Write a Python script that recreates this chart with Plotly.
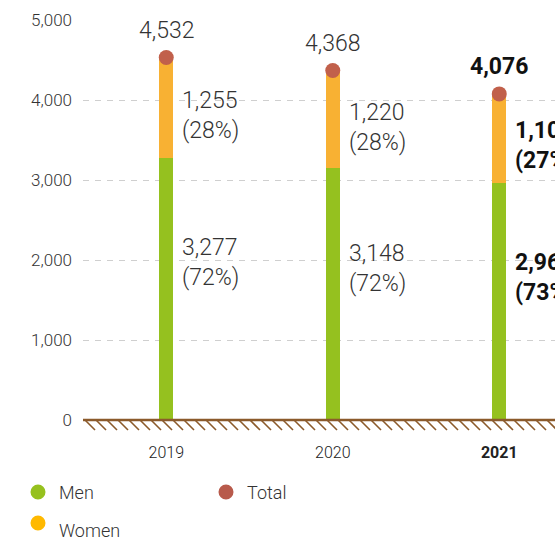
import plotly.graph_objects as go

# ---- data ----
years = ["2019", "2020", "2021"]
men = [3277, 3148, 2968]
women = [1255, 1220, 1108]
totals = [4532, 4368, 4076]
men_pct = ["72%", "72%", "73%"]
women_pct = ["28%", "28%", "27%"]
highlight = "2021"
y_ticks = [0, 1000, 2000, 3000, 4000, 5000]

# ---- style ----
C_MEN = "#95C11F"
C_WOMEN = "#F8B133"
C_TOTAL = "#C1604B"
C_MEN_LEG = "#96C11E"
C_WOMEN_LEG = "#FFB900"
C_TOTAL_LEG = "#B85A4B"
C_GROUND = "#8B5A2B"
FONT = "Roboto"

W, H = 555, 542
ML, MR, MT, MB = 83, 0, 20, 110
PW = W - ML - MR
PH = H - MT - MB
Y_MAX = 5000
Y_MIN = -150
px_per_unit = PH / (Y_MAX - Y_MIN)
cat_px = 166.5
x_range = [-0.5, -0.5 + PW / cat_px]

fig = go.Figure()
fig.add_trace(go.Bar(x=years, y=men, name="Men", marker=dict(color=C_MEN, line=dict(width=0)),
                     width=0.085, showlegend=False, hoverinfo="skip"))
fig.add_trace(go.Bar(x=years, y=women, name="Women", marker=dict(color=C_WOMEN, line=dict(width=0)),
                     width=0.085, showlegend=False, hoverinfo="skip"))
fig.add_trace(go.Scatter(x=years, y=totals, name="Total", mode="markers",
                         marker=dict(color=C_TOTAL, size=15), showlegend=False, hoverinfo="skip"))


def fmt(v):
    return f"{v:,}"


annotations = []
for i, yr in enumerate(years):
    bold = yr == highlight
    col = "#111111" if bold else "#333333"
    wgt = 700 if bold else 300

    def wrap(s, b=bold):
        return f"<b>{s}</b>" if b else s

    lab_font = dict(family=FONT, size=23, color=col, weight=wgt)
    # total label
    annotations.append(dict(x=i, y=totals[i], text=wrap(fmt(totals[i])), showarrow=False,
                            yshift=27, xanchor="center", yanchor="middle", font=lab_font))
    # women label
    annotations.append(dict(x=i, y=men[i] + women[i] * 0.42,
                            text=wrap(fmt(women[i])) + "<br>" + wrap(f"({women_pct[i]})"),
                            showarrow=False, xshift=14, xanchor="left", yanchor="middle", align="left",
                            font=lab_font))
    # men label
    annotations.append(dict(x=i, y=men[i] * 0.6,
                            text=wrap(fmt(men[i])) + "<br>" + wrap(f"({men_pct[i]})"),
                            showarrow=False, xshift=14, xanchor="left", yanchor="middle", align="left",
                            font=lab_font))

shapes = []
# ground line
shapes.append(dict(type="line", xref="paper", yref="y", x0=0, x1=1, y0=0, y1=0,
                   line=dict(color=C_GROUND, width=2.5), layer="above"))
# hatching under ground
step = 11
n = int(PW / step) + 2
hatch_h = 10 / px_per_unit
for k in range(n):
    x0 = (2 + k * step) / PW
    x1 = (2 + k * step + 10) / PW
    shapes.append(dict(type="line", xref="paper", yref="y", x0=x0, x1=x1, y0=0, y1=-hatch_h,
                       line=dict(color=C_GROUND, width=1.6), layer="above"))

# manual legend (page pixel positions)
legend_items = [("Men", C_MEN_LEG, 38, 492, 492), ("Total", C_TOTAL_LEG, 226, 492, 492),
                ("Women", C_WOMEN_LEG, 38, 523, 530)]
for name, col, cx, cy, ty in legend_items:
    xp = (cx - ML) / PW
    yp = (H - MB - cy) / PH
    shapes.append(dict(type="circle", xref="paper", yref="paper", xsizemode="pixel", ysizemode="pixel",
                       xanchor=xp, yanchor=yp, x0=-7.5, x1=7.5, y0=-7.5, y1=7.5,
                       fillcolor=col, line=dict(width=0)))
    annotations.append(dict(x=(cx + 19 - ML) / PW, y=(H - MB - ty) / PH,
                            xref="paper", yref="paper",
                            text=name, showarrow=False, xanchor="left", yanchor="middle",
                            font=dict(family=FONT, size=18, color="#333333", weight=300)))

ticktext = [f"<b>{y}</b>" if y == highlight else y for y in years]

fig.update_layout(
    width=W, height=H,
    margin=dict(l=ML, r=MR, t=MT, b=MB, pad=0),
    paper_bgcolor="white", plot_bgcolor="white",
    barmode="stack", bargap=0,
    showlegend=False,
    font=dict(family=FONT),
    xaxis=dict(type="category", range=x_range, showgrid=False, zeroline=False, showline=False,
               ticks="", tickmode="array", tickvals=years, ticktext=ticktext,
               tickfont=dict(family=FONT, size=16, color="#222222", weight=300), ticklabelstandoff=9),
    yaxis=dict(range=[Y_MIN, Y_MAX], tickvals=y_ticks, tickformat=",", showgrid=True,
               gridcolor="#CFCFCF", griddash="6px,6px", gridwidth=1, zeroline=False,
               showline=False, ticks="", tickfont=dict(family=FONT, size=17, color="#333333", weight=300),
               ticklabelstandoff=10),
    annotations=annotations,
    shapes=shapes,
)

fig.write_html(
    "out.html",
    config={"displayModeBar": False},
    post_script="document.body.style.margin='0px';document.body.style.overflow='hidden';",
)
